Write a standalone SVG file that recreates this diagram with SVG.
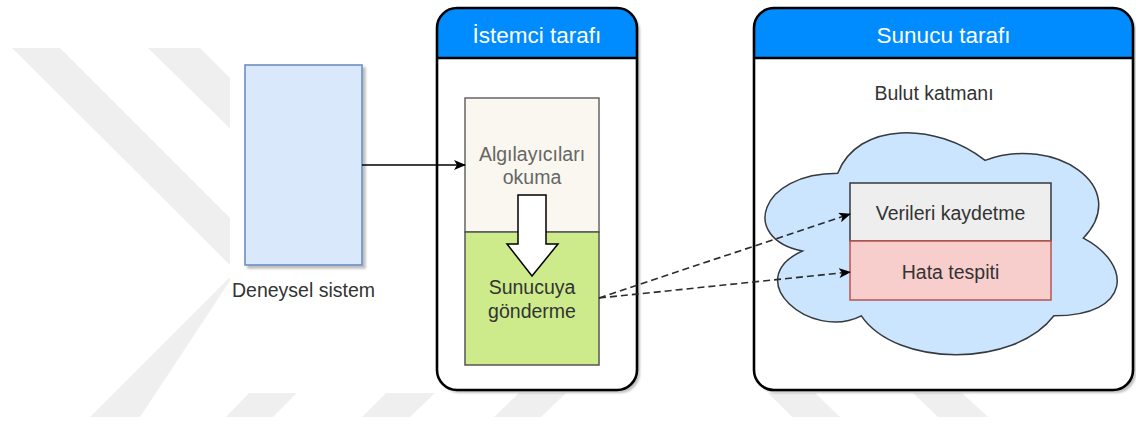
<svg xmlns="http://www.w3.org/2000/svg" width="1136" height="423" viewBox="0 0 1136 423">
  <style>
    .txt { font-family: "Liberation Sans", Arial, Helvetica, sans-serif; font-size: 19.5px; text-anchor: middle; fill: #333333; }
    .head { font-family: "Liberation Sans", Arial, Helvetica, sans-serif; font-size: 22.5px; text-anchor: middle; fill: #ffffff; }
    .wm { fill: #efefef; }
    .frame { fill: none; stroke: #000000; stroke-width: 2.6; }
    .hdr { fill: #008cff; }
    .edge { fill: none; stroke: #000000; stroke-width: 1.6; }
    .dash { fill: none; stroke: #2b2b2b; stroke-width: 1.6; stroke-dasharray: 7 4; }
  </style>
  <defs>
    <marker id="arrow" viewBox="0 0 12 10" refX="11" refY="5" markerWidth="12" markerHeight="10" markerUnits="userSpaceOnUse" orient="auto">
      <path d="M0,0 L12,5 L0,10 L3,5 Z" fill="#000000"/>
    </marker>
    <filter id="shadow" x="-10%" y="-10%" width="130%" height="130%">
      <feOffset dx="3" dy="3" in="SourceAlpha" result="off"/>
      <feGaussianBlur in="off" stdDeviation="1.2" result="blur"/>
      <feColorMatrix in="blur" type="matrix" values="0 0 0 0 0  0 0 0 0 0  0 0 0 0 0  0 0 0 0.25 0" result="sh"/>
      <feMerge><feMergeNode in="sh"/><feMergeNode in="SourceGraphic"/></feMerge>
    </filter>
    <clipPath id="wmclip"><rect x="0" y="0" width="230" height="423"/></clipPath>
  </defs>

  <rect width="1136" height="423" fill="#ffffff"/>

  <!-- faint background pattern -->
  <g id="backdrop">
    <g clip-path="url(#wmclip)">
      <polygon class="wm" points="12,48 60,48 255,243 140,417 90,417 236,271"/>
      <polygon class="wm" points="148,48 200,48 300,148 250,148"/>
    </g>
    <polygon class="wm" points="249,393 297,393 273,417 226,417"/>
    <polygon class="wm" points="386,393 435,393 410,417 362,417"/>
    <polygon class="wm" points="519,393 566,393 541,417 494,417"/>
    <polygon class="wm" points="768,393 815,393 840,417 792,417"/>
    <polygon class="wm" points="913,393 962,393 988,417 938,417"/>
  </g>

  <!-- experimental system -->
  <g id="deneysel-sistem">
    <rect x="245" y="65" width="117" height="200" fill="#dae8fc" stroke="#6c8ebf" stroke-width="1.6" filter="url(#shadow)"/>
    <text class="txt" x="303.5" y="297">Deneysel sistem</text>
  </g>

  <!-- client side container -->
  <g id="istemci-tarafi">
    <rect x="437" y="8" width="200" height="382" rx="20" ry="20" fill="#ffffff" filter="url(#shadow)"/>
    <path class="hdr" d="M437,58 V28 A20,20 0 0 1 457,8 H617 A20,20 0 0 1 637,28 V58 Z"/>
    <line x1="437" y1="58" x2="637" y2="58" stroke="#000000" stroke-width="2.6"/>
    <rect class="frame" x="437" y="8" width="200" height="382" rx="20" ry="20"/>
    <text class="head" x="537" y="43">İstemci tarafı</text>
  </g>

  <g id="algilayicilari-okuma">
    <rect x="465" y="98" width="134" height="134" fill="#f9f7ef" stroke="#666666" stroke-width="1.5"/>
    <text class="txt" x="532" y="161" style="fill:#666666">Algılayıcıları</text>
    <text class="txt" x="532" y="184" style="fill:#666666">okuma</text>
  </g>

  <g id="sunucuya-gonderme">
    <rect x="465" y="232" width="134" height="133" fill="#cdeb8b" stroke="#555555" stroke-width="1.5"/>
    <text class="txt" x="532" y="294">Sunucuya</text>
    <text class="txt" x="532" y="318">gönderme</text>
  </g>

  <!-- block arrow between the two client steps -->
  <g id="akis-oku">
    <path d="M518,195 H546 V244 H558 L532,276 L507,244 H518 Z" fill="#ffffff" stroke="#000000" stroke-width="1.5" stroke-linejoin="miter"/>
  </g>

  <!-- server side container -->
  <g id="sunucu-tarafi">
    <rect x="754" y="8" width="379" height="382" rx="20" ry="20" fill="#ffffff" filter="url(#shadow)"/>
    <path class="hdr" d="M754,58 V28 A20,20 0 0 1 774,8 H1113 A20,20 0 0 1 1133,28 V58 Z"/>
    <line x1="754" y1="58" x2="1133" y2="58" stroke="#000000" stroke-width="2.6"/>
    <rect class="frame" x="754" y="8" width="379" height="382" rx="20" ry="20"/>
    <text class="head" x="943.5" y="43">Sunucu tarafı</text>
    <text class="txt" x="934" y="100">Bulut katmanı</text>
  </g>

  <g id="bulut">
    <path d="M837.75,173.35 C759.15,173.35 739.5,238.1 802.38,251.05 C739.5,279.54 810.24,341.7 861.33,315.8 C896.7,367.6 1014.6,367.6 1053.9,315.8 C1132.5,315.8 1132.5,264 1083.38,238.1 C1132.5,186.3 1053.9,134.5 985.13,160.4 C935.8,121.55 857.4,121.55 837.75,173.35 Z" fill="#cce5ff" stroke="#36393d" stroke-width="1.5"/>
  </g>

  <g id="verileri-kaydetme">
    <rect x="850" y="183" width="201" height="58" fill="#eeeeee" stroke="#36393d" stroke-width="1.5"/>
    <text class="txt" x="950.5" y="220">Verileri kaydetme</text>
  </g>

  <g id="hata-tespiti">
    <rect x="850" y="241" width="201" height="59" fill="#f8cecc" stroke="#b85450" stroke-width="1.5"/>
    <text class="txt" x="950.5" y="279">Hata tespiti</text>
  </g>

  <!-- connectors -->
  <g id="baglantilar">
    <line class="edge" x1="362" y1="165" x2="465" y2="165" marker-end="url(#arrow)"/>
    <line class="dash" x1="599" y1="298" x2="850" y2="214" marker-end="url(#arrow)"/>
    <line class="dash" x1="599" y1="298" x2="850" y2="272" marker-end="url(#arrow)"/>
  </g>
</svg>
